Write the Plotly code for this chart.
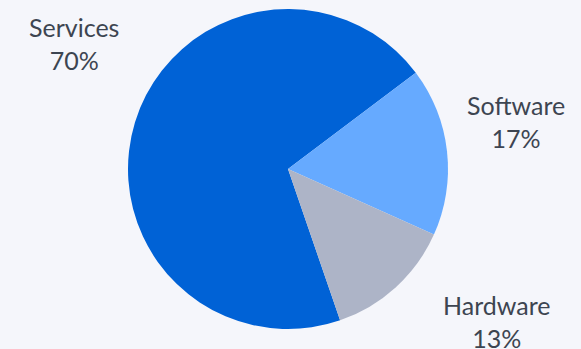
import plotly.graph_objects as go

labels = ["Services", "Software", "Hardware"]
values = [70, 17, 13]
colors = ["#0062d6", "#66aaff", "#adb4c7"]

W, H = 581, 349
label_pos = {"Services": (73.5, 43.5), "Software": (516, 122), "Hardware": (496, 321)}

fig = go.Figure(go.Pie(
    labels=labels, values=values, sort=False, direction="clockwise",
    rotation=161, marker=dict(colors=colors, line=dict(width=0)),
    textinfo="none", hoverinfo="label+percent", showlegend=False,
    domain=dict(x=[128 / W, 448 / W], y=[20 / H, 340 / H]),
))

total = sum(values)
for lab, val in zip(labels, values):
    px, py = label_pos[lab]
    fig.add_annotation(
        x=px / W, y=1 - py / H, xref="paper", yref="paper",
        text=f"{lab}<br>{round(100 * val / total)}%", showarrow=False,
        xanchor="center", yanchor="middle", align="center",
        font=dict(family="Lato", size=25, color="#3d4551"),
    )

fig.update_layout(
    width=W, height=H, margin=dict(l=0, r=0, t=0, b=0),
    paper_bgcolor="#f5f6fb", plot_bgcolor="#f5f6fb",
)
fig.write_html("out.html")
